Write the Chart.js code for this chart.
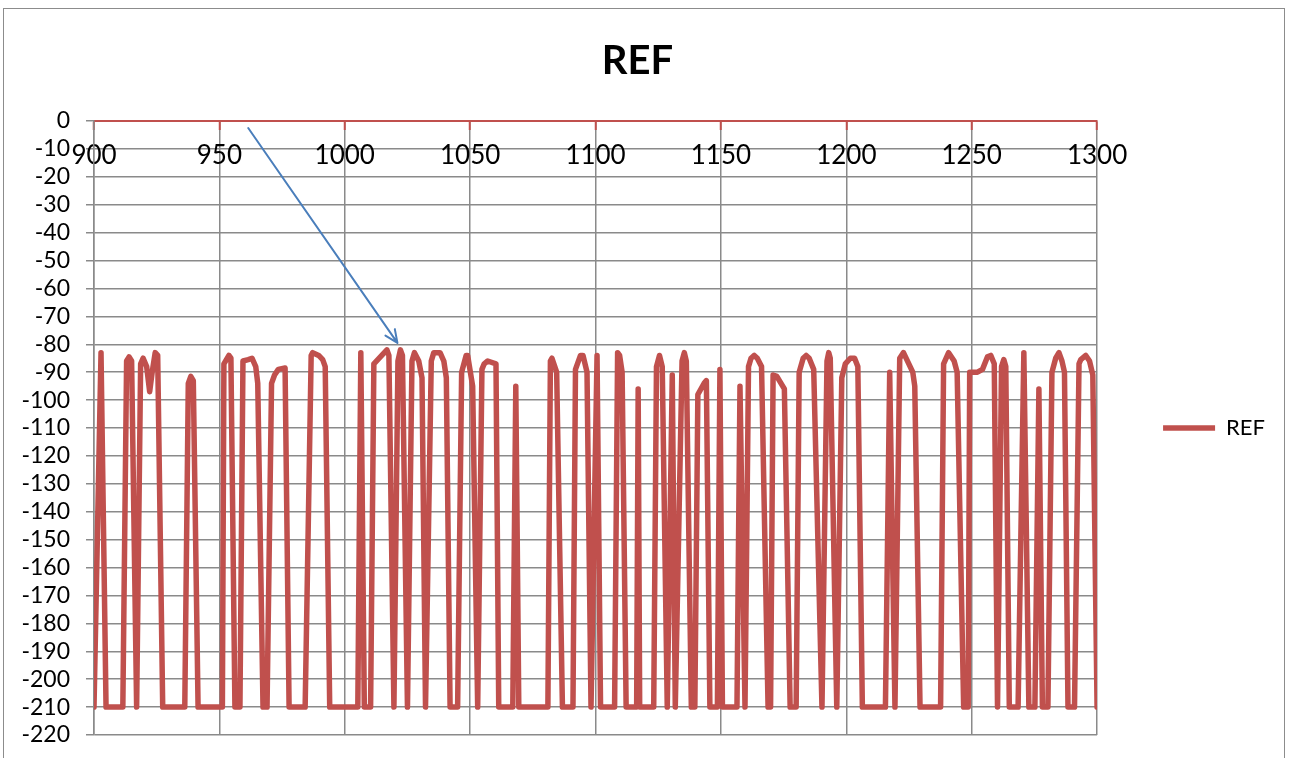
<!DOCTYPE html>
<html>
<head>
<meta charset="utf-8">
<title>REF</title>
<script src="https://cdn.jsdelivr.net/npm/chart.js@4.4.1/dist/chart.umd.min.js"></script>
<style>
  html, body { margin: 0; padding: 0; background: #fff; }
  #wrap { position: relative; width: 1289px; height: 758px; overflow: hidden; }
  #frame { position: absolute; left: 3px; top: 8px; width: 1280px; height: 770px; border: 1px solid #8c8c8c; pointer-events: none; }
</style>
</head>
<body>
<div id="wrap">
  <canvas id="refChart" width="1289" height="758"></canvas>
  <div id="frame"></div>
</div>
<script>
// frequency sweep (x) and measured level (y)
const freq = [
  900, 902.8, 904.8, 911.5, 913, 914, 915, 917, 918.6, 919.6, 921, 922.2, 923.2, 924.4, 925.4, 927.4,
  936.2, 937.6, 938.6, 939.6, 941.5, 951.2, 951.8, 953.8, 954.6, 956.2, 958.2, 959.4, 961.5, 963, 964.5,
  965.3, 967.4, 969, 970.8, 972, 973.5, 976.2, 977.8, 984.2, 986.6, 987.2, 989.6, 991.2, 992.2, 994,
  1005.2, 1006.4, 1007.8, 1010.3, 1011.6, 1016.8, 1017.6, 1019.6, 1021.2, 1022.2, 1023, 1025, 1026.8,
  1027.8, 1029.5, 1030.8, 1032.2, 1034.5, 1035.5, 1038, 1039.5, 1040.5, 1042, 1045, 1046.6, 1048.4, 1049,
  1051, 1053, 1054.7, 1055.6, 1057, 1060.3, 1061.4, 1067, 1068.2, 1069.4, 1081, 1082, 1082.6, 1084.5,
  1086.8, 1091, 1092, 1094, 1095, 1096.6, 1098.2, 1100.6, 1102, 1107.6, 1108.8, 1109.6, 1110.6, 1112.2,
  1116.4, 1117, 1117.6, 1123.2, 1124.3, 1125.5, 1126.6, 1128.6, 1130.6, 1131.8, 1134.5, 1135.4, 1136.2,
  1138.2, 1139.6, 1140.8, 1143.3, 1144.2, 1145.6, 1148.6, 1149.6, 1150.6, 1156.4, 1157.6, 1159.6, 1161,
  1162, 1163.3, 1164.5, 1166.2, 1168.8, 1169.8, 1170.8, 1172.3, 1175.3, 1177.6, 1180, 1181.2, 1182.8,
  1184, 1185.2, 1187, 1190.3, 1192.3, 1193, 1193.6, 1196.2, 1198.2, 1199.6, 1201.6, 1203.3, 1204.6,
  1206.4, 1215.6, 1217.3, 1219.4, 1221.3, 1222.8, 1226.5, 1227.3, 1229.4, 1237.6, 1238.8, 1240.8, 1243,
  1244.2, 1246.8, 1248.6, 1249.2, 1252.3, 1254.3, 1256.3, 1257.6, 1259, 1260.3, 1261.9, 1262.8, 1263.6,
  1265, 1268.5, 1270.8, 1272.8, 1275.2, 1276.8, 1278.2, 1280.4, 1282, 1283.5, 1284.8, 1286, 1287, 1288.4,
  1291, 1292.8, 1293.5, 1295.5, 1297, 1298.3, 1300
];
const level = [
  -210, -83, -210, -210, -86, -84.5, -86, -210, -87, -85, -88, -97, -90, -83, -84, -210,
  -210, -94, -91.5, -93, -210, -210, -87, -84, -85, -210, -210, -86, -85.5, -85, -88,
  -94, -210, -210, -94, -91, -89, -88.5, -210, -210, -84, -83, -84, -85.5, -88, -210,
  -210, -83, -210, -210, -87, -82, -84, -210, -86, -82, -84, -210, -86,
  -83, -86, -92, -210, -86, -83, -83, -86, -92, -210, -210, -90, -84, -84,
  -95, -210, -89, -87, -86, -87, -210, -210, -95, -210, -210, -86, -85, -90,
  -210, -210, -89, -84, -84, -90, -210, -84, -210, -210, -83, -84, -90, -210,
  -210, -96, -210, -210, -88, -84, -88, -210, -91, -210, -86, -83, -86,
  -210, -210, -98, -94, -93, -210, -210, -89, -210, -210, -95, -210, -88,
  -85, -84, -85, -88, -210, -210, -91, -91.5, -96, -210, -210, -90, -85,
  -84, -85, -89, -210, -86, -83, -85, -210, -92, -87, -85, -85, -88,
  -210, -210, -90, -210, -85, -83, -90, -95, -210, -210, -87, -83, -86,
  -90, -210, -210, -90, -90, -89, -84.5, -84, -87, -210, -88, -85.5, -88,
  -210, -210, -83, -210, -210, -96, -210, -210, -90, -85, -83, -86, -90, -210,
  -210, -87, -85.5, -84, -86, -91, -210
];

// arrow annotation, in axis units: [freq, level]
const arrowFrom = [961.5, -2.5];
const arrowTo = [1021, -79.5];

const red = '#C0504D';
const gridGrey = '#8a8a8a';
const xFont = { family: 'Lato', size: 26 };
const yFont = { family: 'Lato', size: 23 };
const legendFont = { family: 'Lato', size: 22 };

const arrowPlugin = {
  id: 'arrow',
  afterDatasetsDraw(chart) {
    const { ctx, scales: { x, y } } = chart;
    const x1 = x.getPixelForValue(arrowFrom[0]), y1 = y.getPixelForValue(arrowFrom[1]);
    const x2 = x.getPixelForValue(arrowTo[0]), y2 = y.getPixelForValue(arrowTo[1]);
    const ang = Math.atan2(y2 - y1, x2 - x1);
    const head = 14, spread = 0.42;
    ctx.save();
    ctx.strokeStyle = '#4A7EBB';
    ctx.lineWidth = 2;
    ctx.lineCap = 'round';
    ctx.lineJoin = 'round';
    ctx.beginPath();
    ctx.moveTo(x1, y1);
    ctx.lineTo(x2, y2);
    ctx.moveTo(x2 - head * Math.cos(ang - spread), y2 - head * Math.sin(ang - spread));
    ctx.lineTo(x2, y2);
    ctx.lineTo(x2 - head * Math.cos(ang + spread), y2 - head * Math.sin(ang + spread));
    ctx.stroke();
    ctx.restore();
  }
};

new Chart(document.getElementById('refChart'), {
  type: 'line',
  data: {
    datasets: [{
      label: 'REF',
      data: freq.map((f, i) => ({ x: f, y: level[i] })),
      borderColor: red,
      backgroundColor: red,
      borderWidth: 5.5,
      borderJoinStyle: 'round',
      borderCapStyle: 'round',
      pointRadius: 0,
      tension: 0,
      fill: false
    }]
  },
  options: {
    responsive: false,
    animation: false,
    devicePixelRatio: 1,
    layout: { padding: { left: 0, right: 14, top: 0, bottom: 23 } },
    plugins: {
      title: {
        display: true,
        text: 'REF',
        color: '#000',
        font: { family: 'Lato', size: 40, weight: 'bold' },
        padding: { top: 37, bottom: 36 }
      },
      legend: {
        position: 'right',
        fullSize: false,
        labels: {
          usePointStyle: true,
          pointStyle: 'line',
          pointStyleWidth: 52,
          padding: 66,
          color: '#000',
          font: legendFont
        }
      },
      tooltip: { enabled: false }
    },
    scales: {
      x: {
        type: 'linear',
        position: { y: 0 },
        min: 900,
        max: 1300,
        ticks: {
          stepSize: 50,
          padding: 11,
          color: '#000',
          font: xFont,
          callback: v => String(v)
        },
        grid: { color: gridGrey, lineWidth: 1.5, tickLength: 8, tickColor: red, tickWidth: 2 },
        border: { color: red, width: 2 },
        // labels sit inside the plot under the zero line, so reserve no room below
        afterFit(scale) { scale.height = 0; }
      },
      y: {
        type: 'linear',
        min: -220,
        max: 0,
        ticks: {
          stepSize: 10,
          autoSkip: false,
          padding: 16,
          color: '#000',
          font: yFont,
          callback: v => String(v)
        },
        grid: { color: gridGrey, lineWidth: 1.5, tickLength: 8, tickColor: gridGrey },
        border: { color: gridGrey, width: 1.5 },
        afterFit(scale) {
          scale.width = 94;
          // the -220 label may hang into the bottom margin
          scale.paddingBottom = 0;
        }
      }
    }
  },
  plugins: [arrowPlugin]
});
</script>
</body>
</html>
